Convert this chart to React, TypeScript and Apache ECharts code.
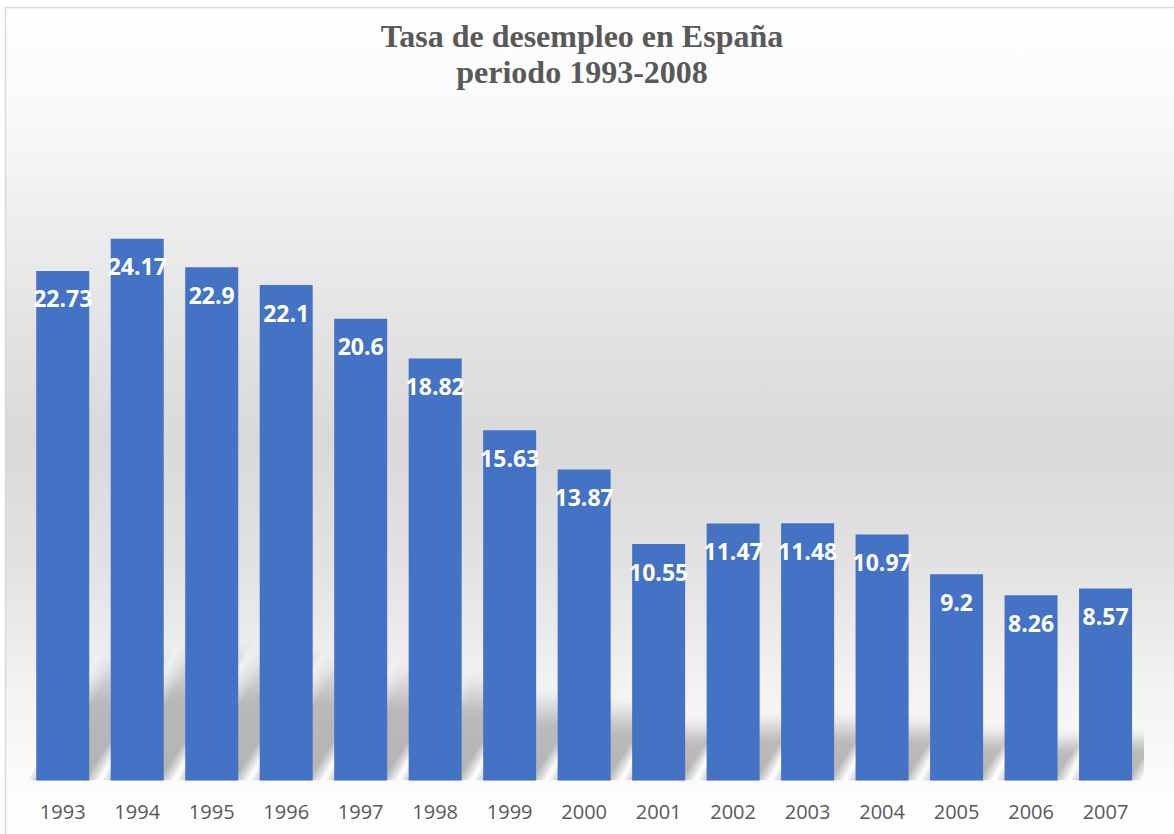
import React, { useEffect, useRef } from "react";
import * as echarts from "echarts";

const years = ["1993","1994","1995","1996","1997","1998","1999","2000","2001","2002","2003","2004","2005","2006","2007"];
const rates = [22.73, 24.17, 22.9, 22.1, 20.6, 18.82, 15.63, 13.87, 10.55, 11.47, 11.48, 10.97, 9.2, 8.26, 8.57];
const titleText = "Tasa de desempleo en España\nperiodo 1993-2008";

export default function App() {
  const ref = useRef<HTMLDivElement>(null);
  useEffect(() => {
    if (!ref.current) return;
    const chart = echarts.init(ref.current, undefined, { renderer: "svg" });
    const barW = 53;
    chart.setOption({
      animation: false,
      backgroundColor: "#ffffff",
      title: {
        text: titleText,
        left: 582,
        top: 18,
        textAlign: "center",
        padding: 0,
        textStyle: {
          fontFamily: "'Liberation Serif', 'Times New Roman', serif",
          fontWeight: "bold",
          fontSize: 32,
          lineHeight: 36,
          color: "#595959",
        },
      },
      graphic: [
        {
          type: "rect",
          z: -10,
          silent: true,
          shape: { x: 5.5, y: 7.5, width: 1200, height: 900 },
          style: {
            fill: new echarts.graphic.LinearGradient(0, 0, 0, 1, [
              { offset: 0, color: "#ffffff" },
              { offset: 0.12, color: "#f9f9f9" },
              { offset: 0.32, color: "#e6e6e6" },
              { offset: 0.48, color: "#d9d9d9" },
              { offset: 0.62, color: "#e2e2e2" },
              { offset: 0.76, color: "#f3f3f3" },
              { offset: 0.88, color: "#fdfdfd" },
              { offset: 1, color: "#ffffff" },
            ]),
            stroke: "#d9d9d9",
            lineWidth: 1.5,
          },
        },
      ],
      grid: { left: 25.5, right: 31.2, top: 108, bottom: 53.5 },
      xAxis: {
        type: "category",
        data: years,
        axisLine: { show: false },
        axisTick: { show: false },
        axisLabel: {
          color: "#595959",
          fontFamily: "'Open Sans', sans-serif",
          fontSize: 20,
          margin: 21,
        },
      },
      yAxis: {
        type: "value",
        min: 0,
        max: 30,
        show: false,
        splitLine: { show: false },
      },
      series: [
        {
          type: "custom",
          z: 1,
          clip: true,
          silent: true,
          data: rates,
          renderItem: (params: any, api: any) => {
            const idx = params.dataIndex;
            const v = api.value(1);
            const base = api.coord([idx, 0]);
            const top = api.coord([idx, v]);
            const h = base[1] - top[1];
            const dh = 0.25 * h;
            const m = 1.6;
            const dx = dh / m;
            const x0 = base[0] - barW / 2;
            const x1 = base[0] + barW / 2;
            const y0 = base[1];
            const children: any[] = [];
            for (let k = 0; k < 5; k++) {
              const e = k * 3 - 4;
              children.push({
                type: "polygon",
                shape: {
                  points: [
                    [x0 - e, y0],
                    [x1 + e, y0],
                    [x1 + e + dx, y0 - dh - e],
                    [x0 - e + dx, y0 - dh - e],
                  ],
                },
                style: {
                  fill: new echarts.graphic.LinearGradient(0, 1, 0, 0, [
                    { offset: 0, color: "rgba(0,0,0,0.065)" },
                    { offset: 0.6, color: "rgba(0,0,0,0.055)" },
                    { offset: 1, color: "rgba(0,0,0,0)" },
                  ]),
                },
              });
            }
            return { type: "group", children };
          },
        },
        {
          type: "bar",
          z: 2,
          data: rates,
          barWidth: barW,
          itemStyle: { color: "#4472C4" },
          label: {
            show: true,
            position: "insideTop",
            distance: 16,
            color: "#ffffff",
            fontFamily: "'Open Sans', sans-serif",
            fontWeight: "bold",
            fontSize: 23,
          },
        },
      ],
    });
    return () => chart.dispose();
  }, []);
  return (
    <div
      ref={ref}
      style={{ position: "absolute", left: 0, top: 0, width: 1174, height: 834 }}
    />
  );
}
